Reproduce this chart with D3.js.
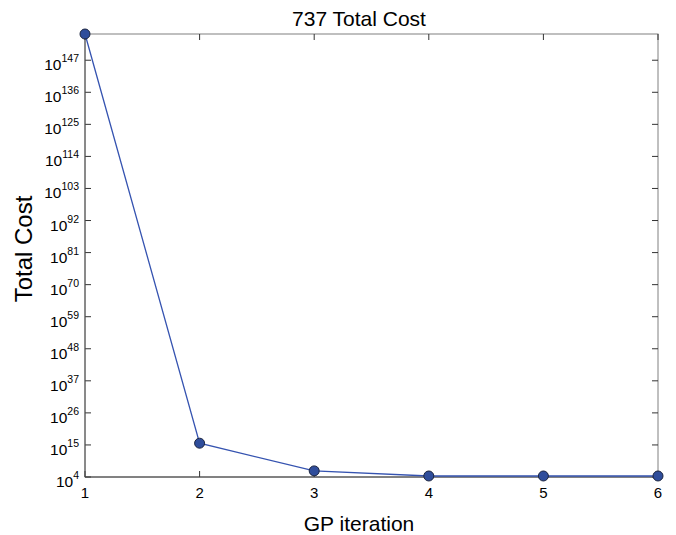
<!DOCTYPE html>
<html>
<head>
<meta charset="utf-8">
<script src="https://cdn.jsdelivr.net/npm/d3@7"></script>
<style>
  body { margin: 0; background: #fff; }
  svg text { font-family: "Liberation Sans", Arial, sans-serif; fill: #000; }
</style>
</head>
<body>
<svg></svg>
<script>
// GP iteration vs total cost (log10 of cost)
var iterations = [1, 2, 3, 4, 5, 6];
var logCost = [156, 15.6, 6.1, 4.35, 4.35, 4.35];
var yTickExps = [4, 15, 26, 37, 48, 59, 70, 81, 92, 103, 114, 125, 136, 147];

var screen = { width: 676, height: 535 };
var margins = { top: 34, bottom: 58, left: 85, right: 18 };
var width = screen.width - margins.left - margins.right;
var height = screen.height - margins.top - margins.bottom;

var svg = d3.select("svg")
            .attr("width", screen.width)
            .attr("height", screen.height);

var xScale = d3.scaleLinear()
               .domain([1, 6])
               .range([0, width]);

// values are exponents, so a linear scale on them is the log axis
var yScale = d3.scaleLinear()
               .domain([4, 156])
               .range([height, 0]);

var plot = svg.append("g")
              .attr("transform", "translate(" + margins.left + "," + margins.top + ")");

// box
plot.append("rect")
    .attr("width", width)
    .attr("height", height)
    .attr("fill", "none")
    .attr("stroke", "#808080")
    .attr("stroke-width", 1);

// x ticks (bottom and top)
var xTicks = plot.selectAll(".xt")
    .data(iterations)
    .enter()
    .append("g")
    .attr("transform", function(d) { return "translate(" + xScale(d) + ",0)"; });

xTicks.append("line").attr("y1", height).attr("y2", height - 6).attr("stroke", "#333");
xTicks.append("line").attr("y1", 0).attr("y2", 6).attr("stroke", "#333");
xTicks.append("text")
      .attr("y", height + 21)
      .attr("text-anchor", "middle")
      .attr("font-size", 15)
      .text(function(d) { return d; });

// y ticks (left and right)
var yTicks = plot.selectAll(".yt")
    .data(yTickExps)
    .enter()
    .append("g")
    .attr("transform", function(d) { return "translate(0," + yScale(d) + ")"; });

yTicks.append("line").attr("x1", 0).attr("x2", 6).attr("stroke", "#333");
yTicks.append("line").attr("x1", width).attr("x2", width - 6).attr("stroke", "#333");

var yLab = yTicks.append("text")
      .attr("x", -6)
      .attr("y", 10)
      .attr("text-anchor", "end")
      .attr("font-size", 15.5);
yLab.append("tspan").text("10");
yLab.append("tspan")
    .attr("dy", -8)
    .attr("font-size", 10.5)
    .text(function(d) { return d; });

// axis lines darker on left/bottom
plot.append("line").attr("x1", 0).attr("x2", 0).attr("y1", 0).attr("y2", height).attr("stroke", "#555");
plot.append("line").attr("x1", 0).attr("x2", width).attr("y1", height).attr("y2", height).attr("stroke", "#444");

// data line
var line = d3.line()
             .x(function(d, i) { return xScale(iterations[i]); })
             .y(function(d) { return yScale(d); });

plot.append("path")
    .datum(logCost)
    .attr("d", line)
    .attr("fill", "none")
    .attr("stroke", "#3553b0")
    .attr("stroke-width", 1.3);

plot.selectAll(".dot")
    .data(logCost)
    .enter()
    .append("circle")
    .attr("cx", function(d, i) { return xScale(iterations[i]); })
    .attr("cy", function(d) { return yScale(d); })
    .attr("r", 5)
    .attr("fill", "#2f4d9b")
    .attr("stroke", "#1c2540")
    .attr("stroke-width", 1);

// titles
svg.append("text")
   .attr("x", 359)
   .attr("y", 26)
   .attr("text-anchor", "middle")
   .attr("font-size", 21)
   .text("737 Total Cost");

svg.append("text")
   .attr("x", 359)
   .attr("y", 531)
   .attr("text-anchor", "middle")
   .attr("font-size", 21)
   .text("GP iteration");

svg.append("text")
   .attr("transform", "translate(32,249) rotate(-90)")
   .attr("text-anchor", "middle")
   .attr("font-size", 24)
   .text("Total Cost");
</script>
</body>
</html>
